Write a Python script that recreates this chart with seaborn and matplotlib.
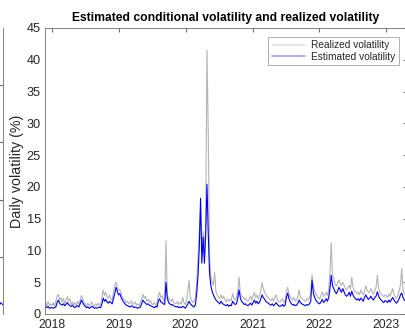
import matplotlib
matplotlib.use("Agg")
import matplotlib.pyplot as plt
import matplotlib.dates as mdates
import numpy as np
import pandas as pd
import seaborn as sns

# ---- data (weekly readings, %) ----
rv_2017 = [1.8, 1.2, 2.0, 1.4, 1.6]
ev_2017 = [1.1, 1.0, 1.2, 0.9, 1.0]

rv_2018 = [1.3, 1.8, 1.2, 2.0, 2.8, 3.1, 2.2, 2.6, 1.8, 2.5, 1.6, 2.2, 2.7,
           2.0, 2.4, 1.5, 1.9, 1.4, 1.8, 1.3, 2.0, 1.5, 2.2, 2.9, 2.4, 1.8,
           1.6, 1.2, 1.7, 1.3, 1.5, 1.9, 1.4, 1.2, 1.6, 1.3, 1.7, 1.4, 1.5,
           2.6, 3.8, 2.9, 3.4, 2.7, 2.5, 3.0, 2.3, 2.2, 3.5, 4.5, 5.0, 4.2, 3.8]
ev_2018 = [1.0, 0.9, 1.0, 1.1, 1.8, 2.2, 1.7, 1.5, 1.4, 1.6, 1.3, 1.5, 1.8,
           1.5, 1.3, 1.2, 1.4, 1.1, 1.0, 1.2, 1.3, 1.1, 1.6, 2.2, 1.8, 1.4,
           1.2, 1.0, 1.1, 0.9, 1.0, 1.2, 1.1, 0.9, 1.0, 0.9, 1.0, 1.1, 1.0,
           1.6, 2.5, 2.0, 2.3, 1.9, 1.7, 2.0, 1.8, 1.6, 2.4, 3.2, 4.2, 3.6, 3.0]

rv_2019 = [3.8, 3.3, 2.7, 2.4, 2.2, 1.8, 2.0, 1.6, 1.7, 2.1, 1.5, 1.6, 1.9,
           1.4, 1.6, 1.3, 1.8, 2.4, 3.1, 2.5, 2.8, 2.0, 2.3, 1.9, 2.1, 1.6,
           1.5, 1.8, 1.4, 1.7, 2.8, 3.4, 2.6, 2.9, 2.2, 2.1, 11.5, 3.0, 2.4,
           2.3, 2.0, 2.4, 1.8, 1.7, 1.6, 2.0, 1.5, 1.8, 1.6, 2.6, 1.8, 1.5]
ev_2019 = [3.2, 2.6, 2.2, 1.9, 1.6, 1.4, 1.3, 1.2, 1.1, 1.3, 1.2, 1.0, 1.1,
           1.0, 0.9, 1.0, 1.1, 1.6, 2.2, 1.9, 1.7, 1.5, 1.6, 1.4, 1.3, 1.2,
           1.1, 1.0, 1.2, 1.1, 2.0, 2.4, 1.9, 1.8, 1.6, 1.5, 5.0, 2.6, 1.8,
           1.6, 1.4, 1.5, 1.3, 1.2, 1.1, 1.2, 1.0, 1.1, 1.0, 1.2, 1.1, 0.9]

rv_2020 = [2.0, 3.5, 5.3, 2.5, 2.2, 1.8, 2.0, 2.6, 5.0, 9.0, 13.0, 16.7, 9.5,
           13.0, 10.0, 14.0, 41.5, 28.6, 9.0, 6.0, 5.0, 4.5, 6.5, 3.5, 3.0, 2.6,
           2.5, 3.0, 2.4, 2.8, 2.2, 1.9, 2.4, 2.0, 2.3, 2.1, 3.2, 2.5, 2.2,
           2.6, 3.6, 5.8, 3.4, 2.8, 2.7, 2.3, 2.5, 2.1, 2.0, 2.4, 2.8, 2.2]
ev_2020 = [1.2, 1.6, 2.0, 1.6, 1.4, 1.2, 1.1, 1.5, 3.3, 6.0, 10.5, 18.2, 8.0,
           12.1, 8.0, 12.5, 20.4, 12.7, 6.5, 4.5, 3.6, 3.0, 2.6, 2.2, 2.0, 1.8,
           1.6, 2.0, 1.7, 1.5, 1.4, 1.3, 1.5, 1.2, 1.4, 1.3, 2.0, 1.7, 1.5,
           1.6, 2.4, 3.8, 2.6, 2.0, 1.8, 1.5, 1.6, 1.4, 1.3, 1.5, 1.7, 1.4]

rv_2021 = [2.8, 3.4, 2.6, 3.0, 2.4, 2.9, 3.6, 4.9, 4.0, 3.4, 3.1, 2.7, 2.6,
           2.3, 2.1, 2.5, 2.0, 2.6, 3.0, 2.3, 2.0, 1.9, 2.2, 2.4, 1.8, 2.1,
           3.6, 4.2, 3.2, 2.7, 2.4, 2.2, 2.6, 2.0, 2.2, 2.8, 3.8, 2.6, 2.5,
           2.3, 2.1, 2.0, 2.4, 2.2, 2.6, 3.2, 6.2, 4.5, 3.6, 3.2, 2.8, 2.5]
ev_2021 = [1.8, 2.2, 1.7, 2.0, 1.6, 1.8, 2.4, 3.0, 2.6, 2.3, 2.0, 1.8, 1.7,
           1.5, 1.4, 1.6, 1.3, 1.5, 1.8, 1.5, 1.3, 1.2, 1.3, 1.5, 1.2, 1.4,
           2.6, 3.3, 2.4, 1.9, 1.6, 1.4, 1.5, 1.3, 1.4, 1.7, 2.2, 1.8, 1.6,
           1.5, 1.4, 1.3, 1.5, 1.4, 1.6, 2.0, 5.3, 3.4, 2.6, 2.2, 1.9, 1.7]

rv_2022 = [2.4, 3.0, 3.5, 2.8, 3.0, 3.4, 2.9, 3.8, 6.5, 11.2, 6.0, 5.7, 4.6,
           4.4, 4.9, 5.4, 4.8, 4.5, 5.0, 4.6, 4.0, 3.8, 4.2, 4.5, 3.9, 5.8,
           4.2, 3.6, 3.5, 3.2, 3.4, 3.0, 3.8, 3.3, 3.0, 3.6, 4.4, 3.8, 3.4,
           3.5, 4.0, 3.4, 3.1, 3.7, 4.2, 6.1, 4.0, 3.4, 3.1, 3.0, 2.7, 3.0]
ev_2022 = [1.6, 1.9, 2.3, 1.8, 2.0, 2.4, 2.0, 2.6, 4.0, 6.1, 4.5, 4.0, 3.5,
           3.2, 3.6, 4.2, 3.8, 3.4, 4.0, 3.5, 3.0, 2.8, 3.0, 3.4, 2.8, 3.6,
           3.0, 2.6, 2.4, 2.2, 2.4, 2.1, 2.5, 2.3, 2.0, 2.6, 3.0, 2.6, 2.3,
           2.5, 2.8, 2.4, 2.2, 2.6, 2.8, 3.5, 2.8, 2.4, 2.2, 2.0, 1.8, 2.1]

rv_2023 = [2.9, 2.6, 3.2, 2.8, 3.4, 4.0, 3.1, 2.7, 2.5, 3.0, 3.6, 4.5, 7.2,
           3.8, 3.2, 2.9]
ev_2023 = [2.0, 1.8, 2.2, 1.9, 2.3, 2.6, 2.2, 1.9, 1.7, 2.0, 2.4, 3.0, 3.3,
           2.6, 2.2, 2.0]

# tail of the neighbouring panel (its own scale 0..1)
nb_vals = [0.03, 0.05, 0.02, 0.04, 0.03]

series_names = ["Realized volatility", "Estimated volatility"]
realized = rv_2017 + rv_2018 + rv_2019 + rv_2020 + rv_2021 + rv_2022 + rv_2023
estimated = ev_2017 + ev_2018 + ev_2019 + ev_2020 + ev_2021 + ev_2022 + ev_2023
dates = pd.date_range("2017-11-27", periods=len(realized), freq="W-MON")

df = pd.DataFrame({
    "date": np.concatenate([dates, dates]),
    "vol": realized + estimated,
    "series": [series_names[0]] * len(realized) + [series_names[1]] * len(estimated),
})

# ---- style ----
sns.set_style("white")
plt.rcParams["font.family"] = ["Liberation Sans", "DejaVu Sans"]

W, H = 406, 331
fig = plt.figure(figsize=(W / 100, H / 100), dpi=100)

def frac(x0, y0, x1, y1):
    return [x0 / W, 1 - y1 / H, (x1 - x0) / W, (y1 - y0) / H]

axcol = "#6e6e6e"

# neighbouring panel (only its right edge is visible)
nb = fig.add_axes(frac(-40, 28, 3.5, 314))
nb.set_xlim(0, 4)
nb.set_ylim(0, 1)
nb.plot(np.linspace(3.0, 4, len(nb_vals)), nb_vals, color="#0000ff", lw=0.7)
for s in ["left", "top", "bottom"]:
    nb.spines[s].set_visible(False)
nb.spines["right"].set_color(axcol)
nb.spines["right"].set_linewidth(0.6)
nb.set_yticks([0.2, 0.4, 0.6, 0.8])
nb.yaxis.tick_right()
nb.tick_params(axis="y", direction="in", length=3, color=axcol, labelright=False)
nb.set_xticks([])

ax = fig.add_axes(frac(45, 28, 407, 314))
sns.lineplot(data=df, x="date", y="vol", hue="series", hue_order=series_names,
             palette=["#b4b4b4", "#0000ff"], linewidth=0.8, estimator=None,
             ax=ax)

ax.set_xlim(pd.Timestamp("2017-11-24"), pd.Timestamp("2023-04-25"))
ax.set_ylim(0, 45)
ax.set_yticks(np.arange(0, 46, 5))
ax.xaxis.set_major_locator(mdates.YearLocator())
ax.xaxis.set_major_formatter(mdates.DateFormatter("%Y"))

for s in ax.spines.values():
    s.set_color(axcol)
    s.set_linewidth(0.6)
ax.tick_params(direction="in", length=3, color=axcol,
               labelcolor="#262626", top=True, right=True)
ax.tick_params(axis="x", pad=3.5, labelsize=8.8)
ax.tick_params(axis="y", pad=3, labelsize=9.2)

ax.set_xlabel("")
ax.set_ylabel("Daily volatility (%)", fontsize=10.3, color="#262626", labelpad=2)
ax.set_title("Estimated conditional volatility and realized volatility",
             fontsize=8.7, fontweight="bold", color="black", pad=5)

leg = ax.legend(loc="upper right", bbox_to_anchor=(0.978, 0.969),
                borderaxespad=0, fontsize=7.3, frameon=True, fancybox=False,
                handlelength=3.3, handletextpad=0.6, borderpad=0.35,
                labelspacing=0.15)
leg.get_frame().set_edgecolor("#8c8c8c")
leg.get_frame().set_linewidth(0.6)
for line in leg.get_lines():
    line.set_linewidth(1.2)
leg.get_lines()[0].set_color("#e0e0e0")
leg.get_lines()[1].set_color("#a0a0ff")
for t in leg.get_texts():
    t.set_color("#262626")

fig.savefig("out.png", dpi=100)
